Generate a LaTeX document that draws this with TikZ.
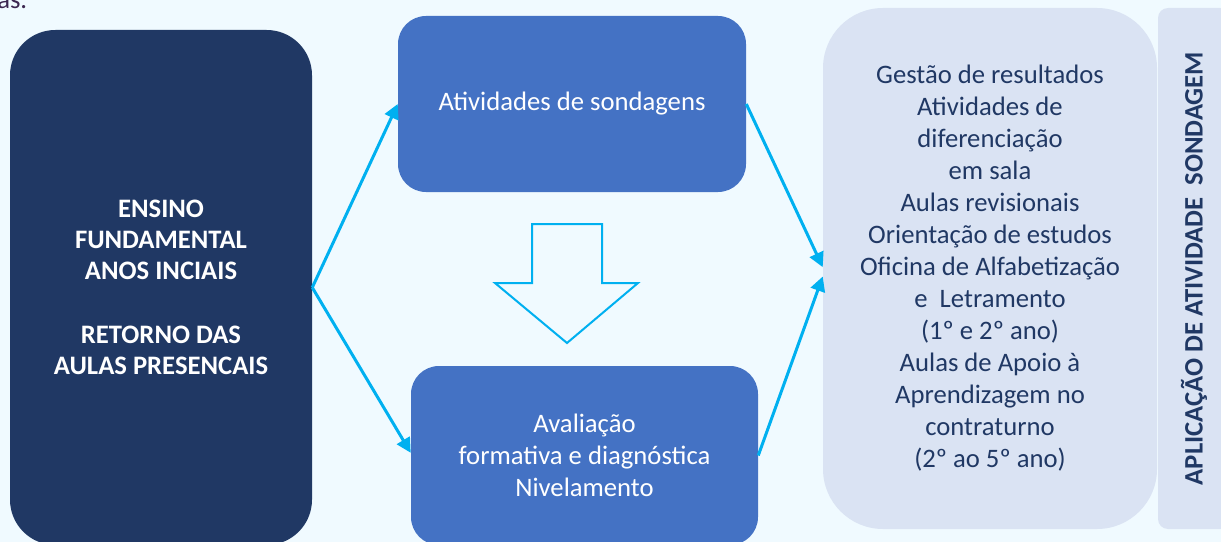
\documentclass[tikz,border=0pt]{standalone}
\usepackage{fontspec}
\setmainfont{Carlito}
\usetikzlibrary{arrows.meta}

\definecolor{navy}{HTML}{203864}
\definecolor{boxblue}{HTML}{4472C4}
\definecolor{cyanline}{HTML}{00B0F0}
\definecolor{paleblue}{HTML}{DAE3F3}
\definecolor{backg}{HTML}{F0FAFF}
\definecolor{bodytext}{HTML}{3B2650}

\tikzstyle{panel} = [rectangle, inner sep=0pt, align=center, font=\fontsize{20}{24}\selectfont]
\tikzstyle{darkbox} = [panel, fill=navy, text=white, rounded corners=34pt, font=\fontsize{20}{23.25}\selectfont\bfseries]
\tikzstyle{bluebox} = [panel, fill=boxblue, text=white, rounded corners=21pt]
\tikzstyle{lightbox} = [panel, fill=paleblue, text=navy, rounded corners=45pt]
\tikzstyle{sidebox} = [panel, fill=paleblue, text=navy, rounded corners=7.5pt, font=\fontsize{20}{24}\selectfont\bfseries]
\tikzstyle{link} = [draw=cyanline, line width=2.25pt, -{Triangle[length=11pt,width=11pt]}]

\begin{document}
\begin{tikzpicture}[x=0.75pt, y=-0.75pt]
\useasboundingbox (0,0) rectangle (1221,542);
\clip (0,0) rectangle (1221,542);
\fill[backg] (0,0) rectangle (1221,542);

% cut-off line of the page text
\node[anchor=base west, inner sep=0pt, text=bodytext, font=\fontsize{20}{24}\selectfont] (pagetext) at (-3,9) {as.};

\node[darkbox, minimum width=226.5pt, minimum height=386.25pt] (ensino) at (161,287.5)
    {ENSINO\\FUNDAMENTAL\\ANOS INCIAIS\\[25pt]RETORNO DAS\\AULAS PRESENCAIS};

\node[bluebox, minimum width=261pt, minimum height=132pt] (sondagem) at (572,104)
    {Atividades de sondagens};
\node[bluebox, minimum width=260.25pt, minimum height=134.25pt] (avaliacao) at (584.5,455.5)
    {Avaliação\\formativa e diagnóstica\\Nivelamento};

\node[lightbox, minimum width=250.5pt, minimum height=390.75pt] (gestao) at (990,268.5)
    {Gestão de resultados\\Atividades de\\diferenciação\\em sala\\Aulas revisionais\\
     Orientação de estudos\\Oficina de Alfabetização\\e~ Letramento\\(1º e 2º ano)\\
     Aulas de Apoio à\\Aprendizagem no\\contraturno\\(2º ao 5º ano)};

\node[sidebox, rotate=90, minimum width=390.75pt, minimum height=54pt] (aplicacao) at (1194,268.5)
    {APLICAÇÃO DE ATIVIDADE~\ SONDAGEM};

% down arrow between the blue boxes
\draw[cyanline, line width=1.5pt, fill=backg]
    (532,224) -- (602,224) -- (602,283) -- (638,283) -- (567,343)
    -- (495,283) -- (532,283) -- cycle;

\draw[link] (ensino.east) -- (sondagem.west);
\draw[link] (ensino.east) -- ([yshift=2pt]avaliacao.west);
\draw[link] (sondagem.east) -- ([yshift=1pt]gestao.west);
\draw[link] (avaliacao.east) -- ([yshift=-6pt]gestao.west);
\end{tikzpicture}
\end{document}
